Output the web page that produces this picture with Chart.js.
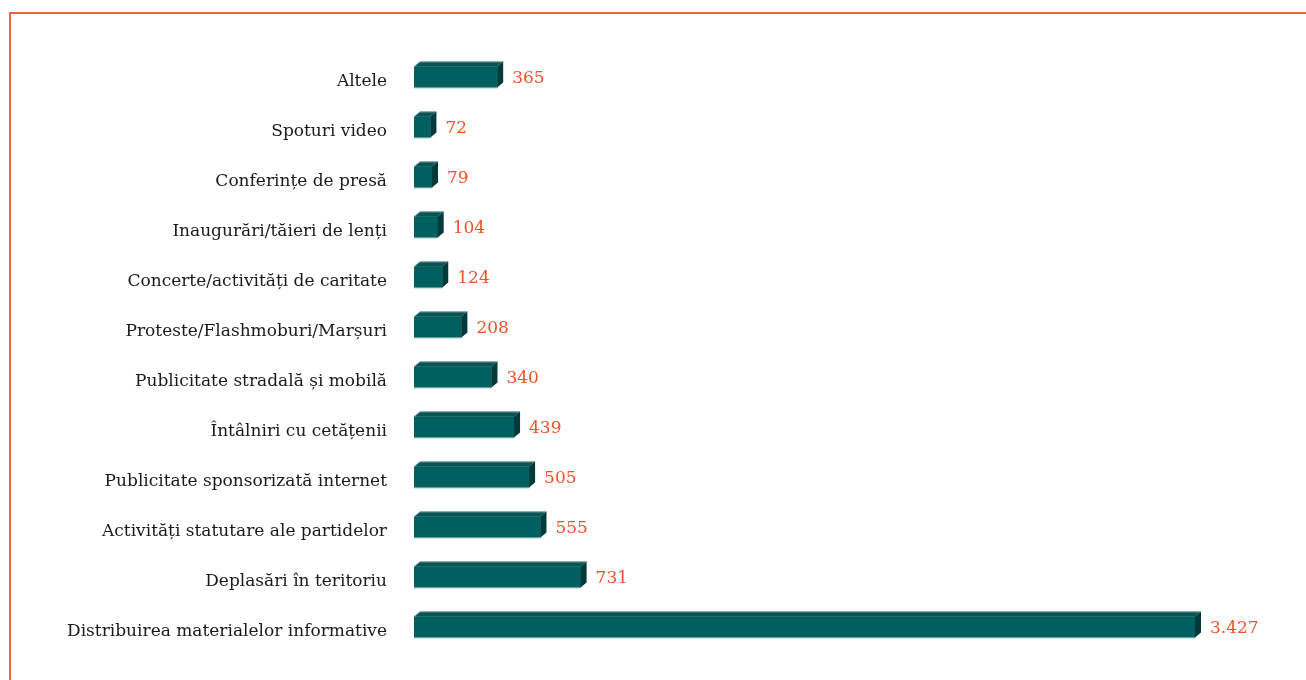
<!DOCTYPE html>
<html>
<head>
<meta charset="utf-8">
<script src="https://cdn.jsdelivr.net/npm/chart.js@4.4.0/dist/chart.umd.min.js"></script>
<style>
  body { margin: 0; background: #fff; }
  #wrap { position: relative; width: 1306px; height: 680px; overflow: hidden; }
  #frame { position: absolute; left: 9px; top: 12px; width: 1310px; height: 700px;
           border-top: 2px solid #F0653D; border-left: 2px solid #F0653D; }
  canvas { position: absolute; left: 0; top: 0; }
</style>
</head>
<body>
<div id="wrap">
  <div id="frame"></div>
  <canvas id="myChart" width="1306" height="680"></canvas>
</div>
<script>
const categorii = [
  "Altele",
  "Spoturi video",
  "Conferințe de presă",
  "Inaugurări/tăieri de lenți",
  "Concerte/activități de caritate",
  "Proteste/Flashmoburi/Marșuri",
  "Publicitate stradală și mobilă",
  "Întâlniri cu cetățenii",
  "Publicitate sponsorizată internet",
  "Activități statutare ale partidelor",
  "Deplasări în teritoriu",
  "Distribuirea materialelor informative"
]
const valori = [365, 72, 79, 104, 124, 208, 340, 439, 505, 555, 731, 3427]

const adancime = 6

const formatNr = (v) => String(v).replace(/\B(?=(\d{3})+(?!\d))/g, ".")

// fetele de sus si laterale ale barelor + etichetele cu valori
const bare3d = {
  id: "bare3d",
  afterDatasetsDraw(chart) {
    const c = chart.ctx
    const meta = chart.getDatasetMeta(0)
    meta.data.forEach((bar, i) => {
      const top = bar.y - bar.height / 2
      const bottom = bar.y + bar.height / 2
      const left = bar.base
      const right = bar.x
      const d = adancime

      c.save()
      // sus
      c.fillStyle = "#0A5253"
      c.beginPath()
      c.moveTo(left, top)
      c.lineTo(left + d, top - d + 1)
      c.lineTo(right + d, top - d + 1)
      c.lineTo(right, top)
      c.closePath()
      c.fill()
      c.strokeStyle = "rgba(150,190,190,0.6)"
      c.lineWidth = 1
      c.beginPath()
      c.moveTo(left, top + 0.5)
      c.lineTo(left + d, top - d + 1.5)
      c.lineTo(right + d, top - d + 1.5)
      c.stroke()
      // lateral
      c.fillStyle = "#003A3B"
      c.beginPath()
      c.moveTo(right, top)
      c.lineTo(right + d, top - d + 1)
      c.lineTo(right + d, bottom - d + 1)
      c.lineTo(right, bottom)
      c.closePath()
      c.fill()
      // linie jos
      c.strokeStyle = "rgba(160,200,200,0.9)"
      c.beginPath()
      c.moveTo(left, bottom + 0.5)
      c.lineTo(right, bottom + 0.5)
      c.stroke()
      // valoare
      c.fillStyle = "#F0522A"
      c.font = "17px 'DejaVu Serif'"
      c.textAlign = "left"
      c.textBaseline = "middle"
      c.fillText(formatNr(valori[i]), right + d + 9, bar.y + 2)
      c.restore()
    })
  }
}

const ctx = document.querySelector("#myChart")

new Chart(ctx, {
  type: "bar",
  data: {
    labels: categorii,
    datasets: [
      {
        data: valori,
        backgroundColor: "#00605F",
        borderWidth: 0,
        barThickness: 21,
      },
    ],
  },
  options: {
    indexAxis: "y",
    responsive: false,
    animation: false,
    events: [],
    layout: { padding: { top: 52, bottom: 28, left: 0, right: 26 } },
    plugins: {
      legend: { display: false },
      tooltip: { enabled: false },
    },
    scales: {
      x: {
        display: false,
        min: 0,
        max: 3800,
      },
      y: {
        grid: { display: false, drawTicks: false },
        border: { display: false },
        afterFit(scale) {
          scale.width = 414
          scale.paddingTop = 0
          scale.paddingBottom = 0
        },
        ticks: {
          color: "#1a1a1a",
          font: { family: "'DejaVu Serif'", size: 17 },
          padding: 27,
          labelOffset: 5,
          autoSkip: false,
        },
      },
    },
  },
  plugins: [bare3d],
})
</script>
</body>
</html>
